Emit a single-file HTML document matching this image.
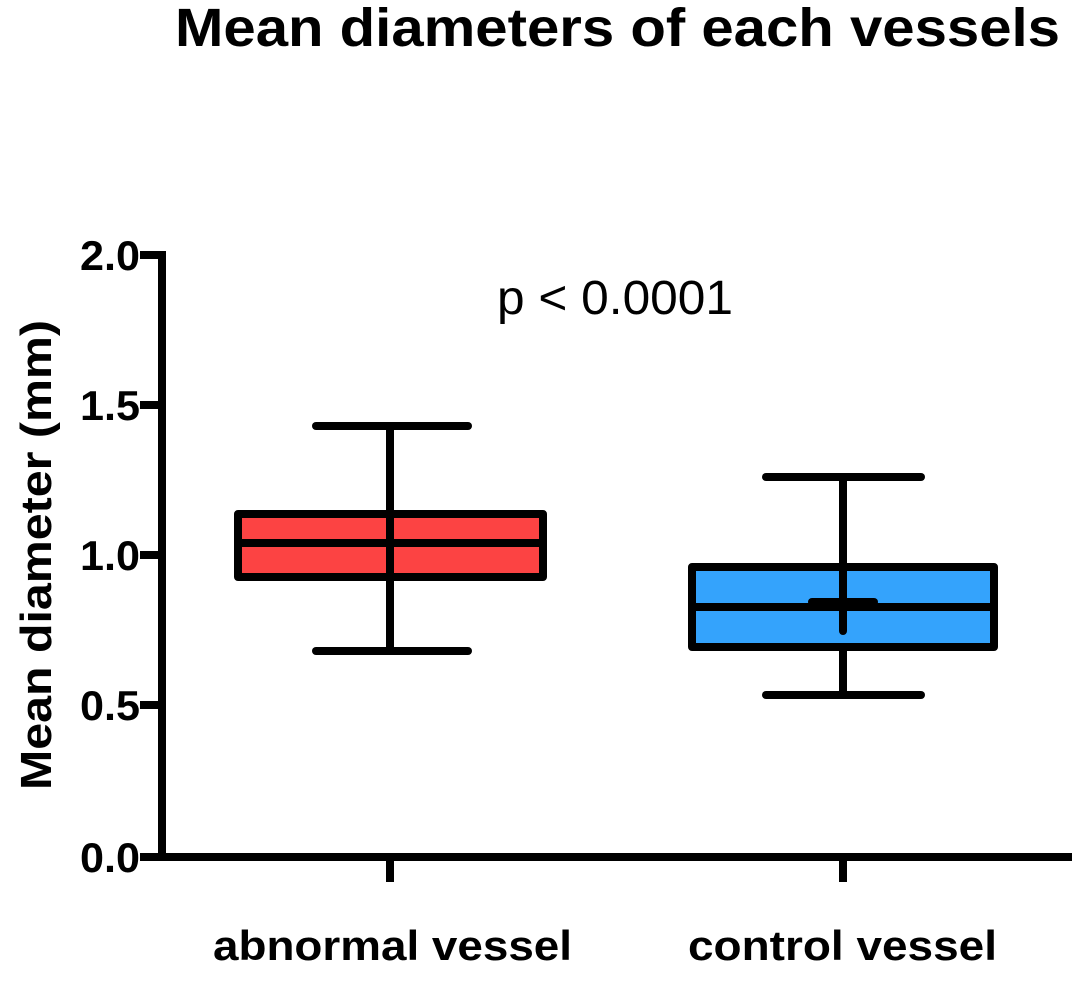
<!DOCTYPE html>
<html><head><style>
body{margin:0;background:#fff;}
svg text{font-family:"Liberation Sans",Arial,sans-serif;}
</style></head><body>
<svg width="1074" height="977" viewBox="0 0 1074 977" xmlns="http://www.w3.org/2000/svg">
<rect width="1074" height="977" fill="#fff"/>
<text x="175" y="46" font-size="54" font-weight="bold" textLength="885" lengthAdjust="spacingAndGlyphs">Mean diameters of each vessels</text>
<g stroke="#000" stroke-width="8" stroke-linecap="square" fill="none">
<line x1="162" y1="255" x2="162" y2="857"/>
<line x1="162" y1="857" x2="1068" y2="857"/>
<line x1="144" y1="255" x2="162" y2="255"/>
<line x1="144" y1="405" x2="162" y2="405"/>
<line x1="144" y1="555" x2="162" y2="555"/>
<line x1="144" y1="705" x2="162" y2="705"/>
<line x1="144" y1="857" x2="162" y2="857"/>
<line x1="390" y1="857" x2="390" y2="878"/>
<line x1="843" y1="857" x2="843" y2="878"/>
</g>
<g font-size="42" font-weight="bold">
<text x="80" y="270" textLength="60" lengthAdjust="spacingAndGlyphs">2.0</text>
<text x="80" y="420" textLength="60" lengthAdjust="spacingAndGlyphs">1.5</text>
<text x="80" y="570" textLength="60" lengthAdjust="spacingAndGlyphs">1.0</text>
<text x="80" y="720" textLength="60" lengthAdjust="spacingAndGlyphs">0.5</text>
<text x="80" y="872" textLength="60" lengthAdjust="spacingAndGlyphs">0.0</text>
</g>
<text transform="translate(51,790) rotate(-90)" font-size="44" font-weight="bold" textLength="470" lengthAdjust="spacingAndGlyphs">Mean diameter (mm)</text>
<text x="497" y="314" font-size="48" textLength="236" lengthAdjust="spacingAndGlyphs">p &lt; 0.0001</text>
<g stroke="#000" stroke-width="8" stroke-linecap="round">
<line x1="390" y1="426" x2="390" y2="651"/>
<line x1="316" y1="426" x2="468" y2="426"/>
<line x1="316" y1="651" x2="468" y2="651"/>
<rect x="238" y="514" width="305" height="63" fill="#fc4343" stroke-linejoin="round"/>
<line x1="238" y1="543" x2="543" y2="543"/>
<line x1="390" y1="514" x2="390" y2="577"/>
<line x1="843" y1="477" x2="843" y2="695"/>
<line x1="766" y1="477" x2="921" y2="477"/>
<line x1="766" y1="695" x2="921" y2="695"/>
<rect x="692" y="567" width="302" height="80" fill="#34a3fc" stroke-linejoin="round"/>
<line x1="692" y1="607" x2="994" y2="607"/>
<line x1="843" y1="567" x2="843" y2="631"/>
<line x1="812" y1="602" x2="874" y2="602"/>
</g>
<g font-size="42" font-weight="bold">
<text x="213" y="960" textLength="359" lengthAdjust="spacingAndGlyphs">abnormal vessel</text>
<text x="688" y="960" textLength="309" lengthAdjust="spacingAndGlyphs">control vessel</text>
</g>
</svg>
</body></html>
